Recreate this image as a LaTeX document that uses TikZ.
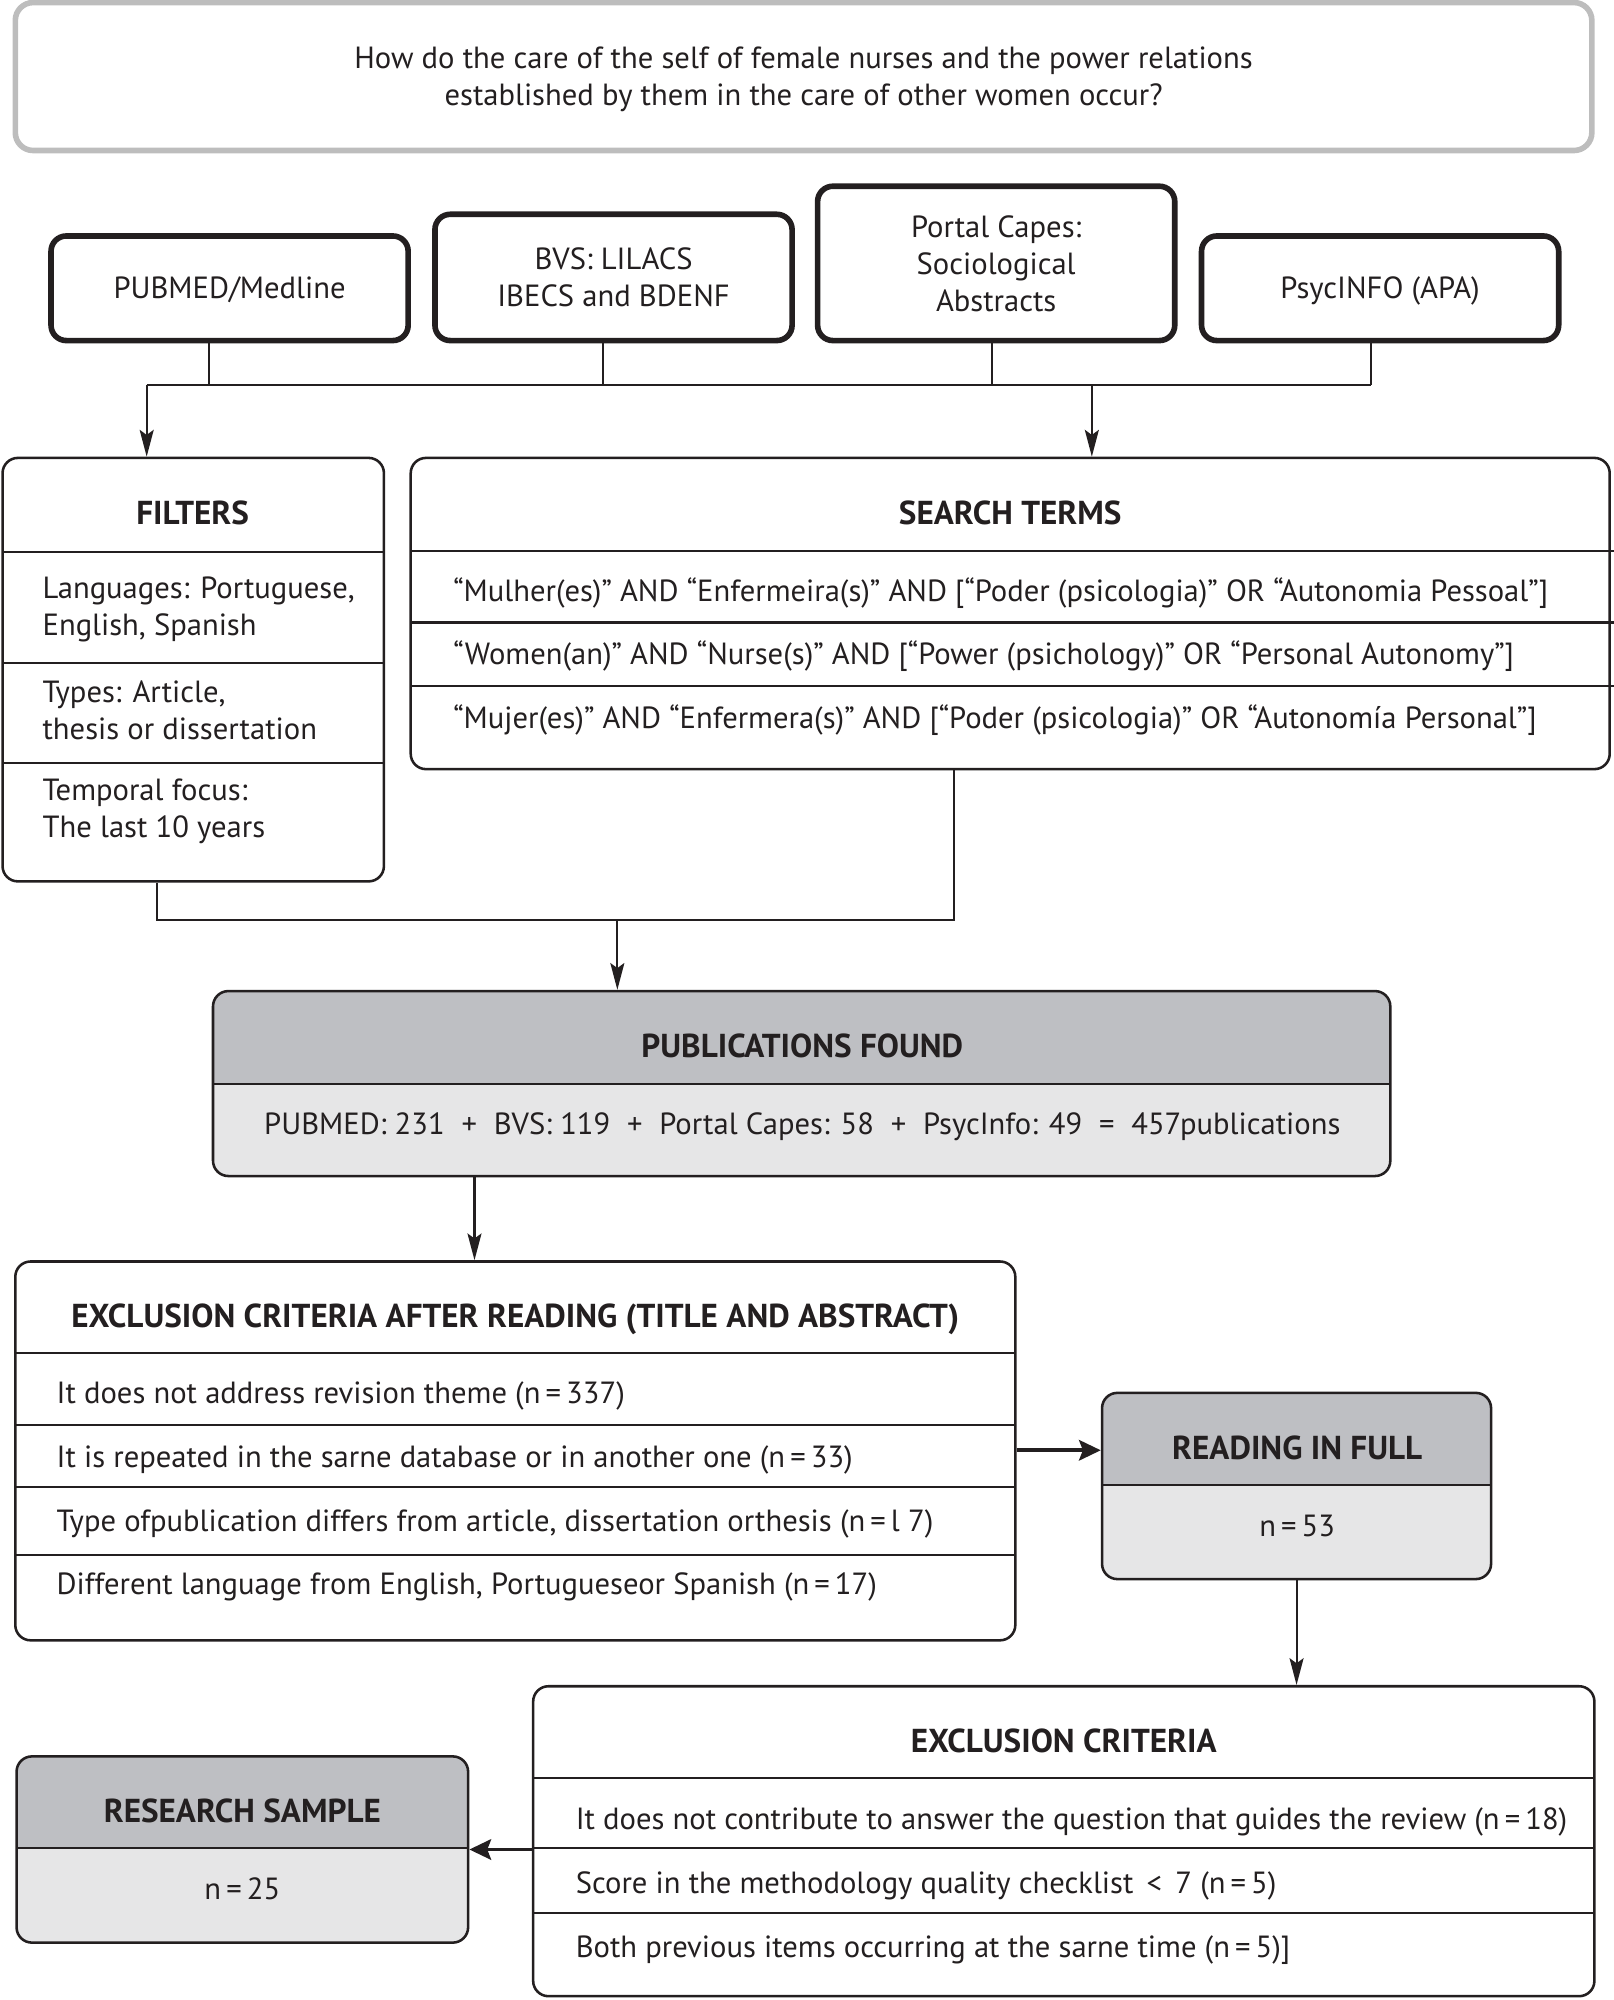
\documentclass[tikz,border=0pt]{standalone}
\usepackage{fontspec}
\setmainfont{PT Sans}
\usetikzlibrary{arrows.meta,fit}
\definecolor{hdr}{HTML}{BEBFC3}
\definecolor{lite}{HTML}{E6E6E7}
\definecolor{qgray}{HTML}{BDBDBD}
\definecolor{ink}{HTML}{231F20}
\newcommand{\opsp}{\hspace{0.55em}}
\begin{document}
\begin{tikzpicture}[x=0.5pt,y=-0.5pt,
  font=\fontsize{12}{14.5}\selectfont, color=ink,
  box/.style={draw=ink, line width=1pt, rounded corners=6pt, inner sep=0pt},
  dbbox/.style={draw=ink, line width=2.2pt, rounded corners=6pt, inner sep=0pt},
  qbox/.style={draw=qgray, line width=2.2pt, rounded corners=7pt, inner sep=0pt},
  lbl/.style={inner sep=0pt, text height=8.3pt, text depth=0pt},
  hd/.style={inner sep=0pt, text height=9pt, text depth=0pt, font=\fontsize{13}{14.5}\selectfont\bfseries},
  ml/.style={inner sep=0pt, align=center},
  row/.style={inner sep=0pt, anchor=west, text height=8.3pt, text depth=0pt},
  rowml/.style={inner sep=0pt, anchor=west, align=left},
  conn/.style={draw=ink, line width=0.8pt},
  arr/.style={conn, -{Stealth[length=10.5pt,width=5.5pt,inset=2pt]}},
  arrthick/.style={draw=ink, line width=1.5pt, -{Stealth[length=8.5pt,width=8pt,inset=1.5pt]}},
  div/.style={draw=ink, line width=0.9pt}
]
\useasboundingbox (0,0) rectangle (1265,1568);

% question
\node[qbox, fit={(12,2)(1248,118)}] (q) {};
\node[ml] (qt) at (630,62) {How do the care of the self of female nurses and the power relations\\established by them in the care of other women occur?};

% databases
\node[dbbox, fit={(40,185)(320,267)}] (pub) {};
\node[lbl] (pubt) at (pub.center) {PUBMED/Medline};
\node[dbbox, fit={(341,168)(621,267)}] (bvs) {};
\node[ml] (bvst) at (bvs.center) {BVS: LILACS\\IBECS and BDENF};
\node[dbbox, fit={(641,146)(921,267)}] (cap) {};
\node[ml] (capt) at (cap.center) {Portal Capes:\\Sociological\\Abstracts};
\node[dbbox, fit={(942,185)(1222,267)}] (psy) {};
\node[lbl] (psyt) at (psy.center) {PsycINFO (APA)};

\coordinate (b1) at (164,302);
\coordinate (b2) at (473,302);
\coordinate (b3) at (778,302);
\coordinate (b4) at (1075,302);
\coordinate (j1) at (115,302);
\coordinate (j2) at (856,302);

% filters
\node[box, fit={(2,359)(301,691)}] (fl) {};
\node[hd] (flh) at (151,402) {FILTERS};
\draw[div] (2,433) -- (301,433);
\draw[div] (2,520) -- (301,520);
\draw[div] (2,598) -- (301,598);
\node[rowml] (fl1) at (33,478) {Languages: Portuguese,\\English, Spanish};
\node[rowml] (fl2) at (33,557) {Types: Article,\\thesis or dissertation};
\node[rowml] (fl3) at (33,636) {Temporal focus:\\The last 10 years};

% search terms
\node[box, fit={(322,359)(1262,603)}] (st) {};
\node[hd] (sth) at (792,402) {SEARCH TERMS};
\draw[div] (322,432) -- (1265,432);
\draw[div] (322,488) -- (1265,488);
\draw[div] (322,538) -- (1265,538);
\node[row] (st1) at (355,463) {“Mulher(es)” AND “Enfermeira(s)” AND [“Poder (psicologia)” OR “Autonomia Pessoal”]};
\node[row] (st2) at (355,513) {“Women(an)” AND “Nurse(s)” AND [“Power (psichology)” OR “Personal Autonomy”]};
\node[row] (st3) at (355,563) {“Mujer(es)” AND “Enfermera(s)” AND [“Poder (psicologia)” OR “Autonomía Personal”]};

% connectors top
\draw[conn] (b1 |- pub.south) -- (b1);
\draw[conn] (b2 |- bvs.south) -- (b2);
\draw[conn] (b3 |- cap.south) -- (b3);
\draw[conn] (b4 |- psy.south) -- (b4);
\draw[conn] (j1) -- (b4);
\draw[arr] (j1) -- (j1 |- fl.north);
\draw[arr] (j2) -- (j2 |- st.north);

% publications found
\begin{scope}
\clip[rounded corners=6pt] (167,777) rectangle (1090,922);
\fill[lite] (167,777) rectangle (1090,922);
\fill[hdr] (167,777) rectangle (1090,850);
\end{scope}
\node[box, fit={(167,777)(1090,922)}] (pf) {};
\draw[div] (167,850) -- (1090,850);
\node[hd] (pfh) at (629,820) {PUBLICATIONS FOUND};
\node[lbl] (pft) at (629,881) {PUBMED: 231\opsp+\opsp BVS: 119\opsp+\opsp Portal Capes: 58\opsp+\opsp PsycInfo: 49\opsp=\opsp 457publications};

\coordinate (k1) at (123,721);
\coordinate (k2) at (748,721);
\coordinate (k3) at (484,721);
\draw[conn] (k1 |- fl.south) -- (k1) -- (k2) -- (k2 |- st.south);
\draw[arr] (k3) -- (k3 |- pf.north);

% exclusion criteria after reading
\node[box, fit={(12,989)(796,1286)}] (ex) {};
\node[hd] (exh) at (404,1032) {EXCLUSION CRITERIA AFTER READING (TITLE AND ABSTRACT)};
\draw[div] (12,1061) -- (796,1061);
\draw[div] (12,1117) -- (796,1117);
\draw[div] (12,1166) -- (796,1166);
\draw[div] (12,1219) -- (796,1219);
\node[row] (ex1) at (44,1092) {It does not address revision theme (n\,=\,337)};
\node[row] (ex2r) at (44,1142) {It is repeated in the sarne database or in another one (n\,=\,33)};
\node[row] (ex3) at (44,1192) {Type ofpublication differs from article, dissertation orthesis (n\,=\,l 7)};
\node[row] (ex4) at (44,1242) {Different language from English, Portugueseor Spanish (n\,=\,17)};

\coordinate (m) at (372,950);
\draw[arr] (m |- pf.south) -- (m |- ex.north);

% reading in full
\begin{scope}
\clip[rounded corners=6pt] (864,1092) rectangle (1169,1238);
\fill[lite] (864,1092) rectangle (1169,1238);
\fill[hdr] (864,1092) rectangle (1169,1164);
\end{scope}
\node[box, fit={(864,1092)(1169,1238)}] (rf) {};
\draw[div] (864,1164) -- (1169,1164);
\node[hd] (rfh) at (1017,1135) {READING IN FULL};
\node[lbl] (rft) at (1017,1196) {n\,=\,53};

\coordinate (r1) at (830,1137);
\draw[arrthick] (ex.east |- r1) -- (rf.west |- r1);

% exclusion criteria
\node[box, fit={(418,1322)(1250,1565)}] (exb) {};
\node[hd] (exbh) at (834,1365) {EXCLUSION CRITERIA};
\draw[div] (418,1394) -- (1250,1394);
\draw[div] (418,1449) -- (1250,1449);
\draw[div] (418,1500) -- (1250,1500);
\node[row] (exb1) at (451,1426) {It does not contribute to answer the question that guides the review (n\,=\,18)};
\node[row] (exb2) at (451,1476) {Score in the methodology quality checklist \,<\, 7 (n\,=\,5)};
\node[row] (exb3) at (451,1526) {Both previous items occurring at the sarne time (n\,=\,5)]};

\draw[arr] (rf.south) -- (rf.south |- exb.north);

% research sample
\begin{scope}
\clip[rounded corners=6pt] (13,1377) rectangle (367,1523);
\fill[lite] (13,1377) rectangle (367,1523);
\fill[hdr] (13,1377) rectangle (367,1449);
\end{scope}
\node[box, fit={(13,1377)(367,1523)}] (rs) {};
\draw[div] (13,1449) -- (367,1449);
\node[hd] (rsh) at (190,1420) {RESEARCH SAMPLE};
\node[lbl] (rst) at (190,1481) {n\,=\,25};

\coordinate (r2) at (400,1450);
\draw[arrthick] (exb.west |- r2) -- (rs.east |- r2);
\end{tikzpicture}
\end{document}
